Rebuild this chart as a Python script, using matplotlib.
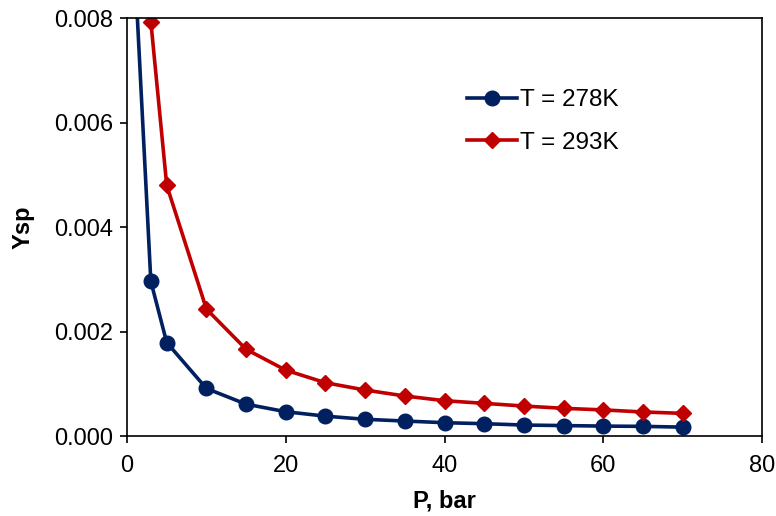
import matplotlib
matplotlib.use("Agg")
import matplotlib.pyplot as plt

plt.rcParams['font.family'] = ['Liberation Sans', 'DejaVu Sans']

# Pressure (bar) and solubility Ysp for two temperatures
p_278 = [1, 3, 5, 10, 15, 20, 25, 30, 35, 40, 45, 50, 55, 60, 65, 70]
y_278 = [0.0089, 0.00296, 0.00179, 0.00091, 0.00061, 0.000465, 0.00038, 0.00032,
         0.000287, 0.000255, 0.000236, 0.00021, 0.0002, 0.00019, 0.000185, 0.00017]

p_293 = [3, 5, 10, 15, 20, 25, 30, 35, 40, 45, 50, 55, 60, 65, 70]
y_293 = [0.00793, 0.0048, 0.00243, 0.00166, 0.00126, 0.00102, 0.00088, 0.000766,
         0.000676, 0.000625, 0.000574, 0.00053, 0.0005, 0.00046, 0.000434]

labels = ['T = 278K', 'T = 293K']
x_ticks = [0, 20, 40, 60, 80]
y_ticks = [0.000, 0.002, 0.004, 0.006, 0.008]

fig = plt.figure(figsize=(7.76, 5.16), dpi=100)
ax = fig.add_axes([0.1637, 0.155, 0.8183, 0.810])

ax.plot(p_278, y_278, color='#002060', lw=2.6, marker='o', ms=10.5, label=labels[0])
ax.plot(p_293, y_293, color='#C00000', lw=2.6, marker='D', ms=8, label=labels[1])

ax.set_xlim(0, 80)
ax.set_ylim(0, 0.008)
ax.set_xticks(x_ticks)
ax.set_yticks(y_ticks)
ax.set_yticklabels([f'{v:.3f}' for v in y_ticks])
ax.tick_params(axis='both', direction='out', length=5, width=1.2, labelsize=17, colors='black')
ax.tick_params(axis='y', pad=5)
ax.tick_params(axis='x', pad=9)
for s in ax.spines.values():
    s.set_linewidth(1.2)
    s.set_color('black')

ax.set_xlabel('P, bar', fontsize=17, fontweight='bold', labelpad=9)
ax.set_ylabel('Ysp', fontsize=17, fontweight='bold', labelpad=14)

ax.legend(loc='upper left', bbox_to_anchor=(0.535, 0.83), frameon=False, fontsize=17.5,
          handlelength=2.05, handletextpad=0.15, labelspacing=0.84,
          borderpad=0, borderaxespad=0)

fig.savefig('out.png', dpi=100)
